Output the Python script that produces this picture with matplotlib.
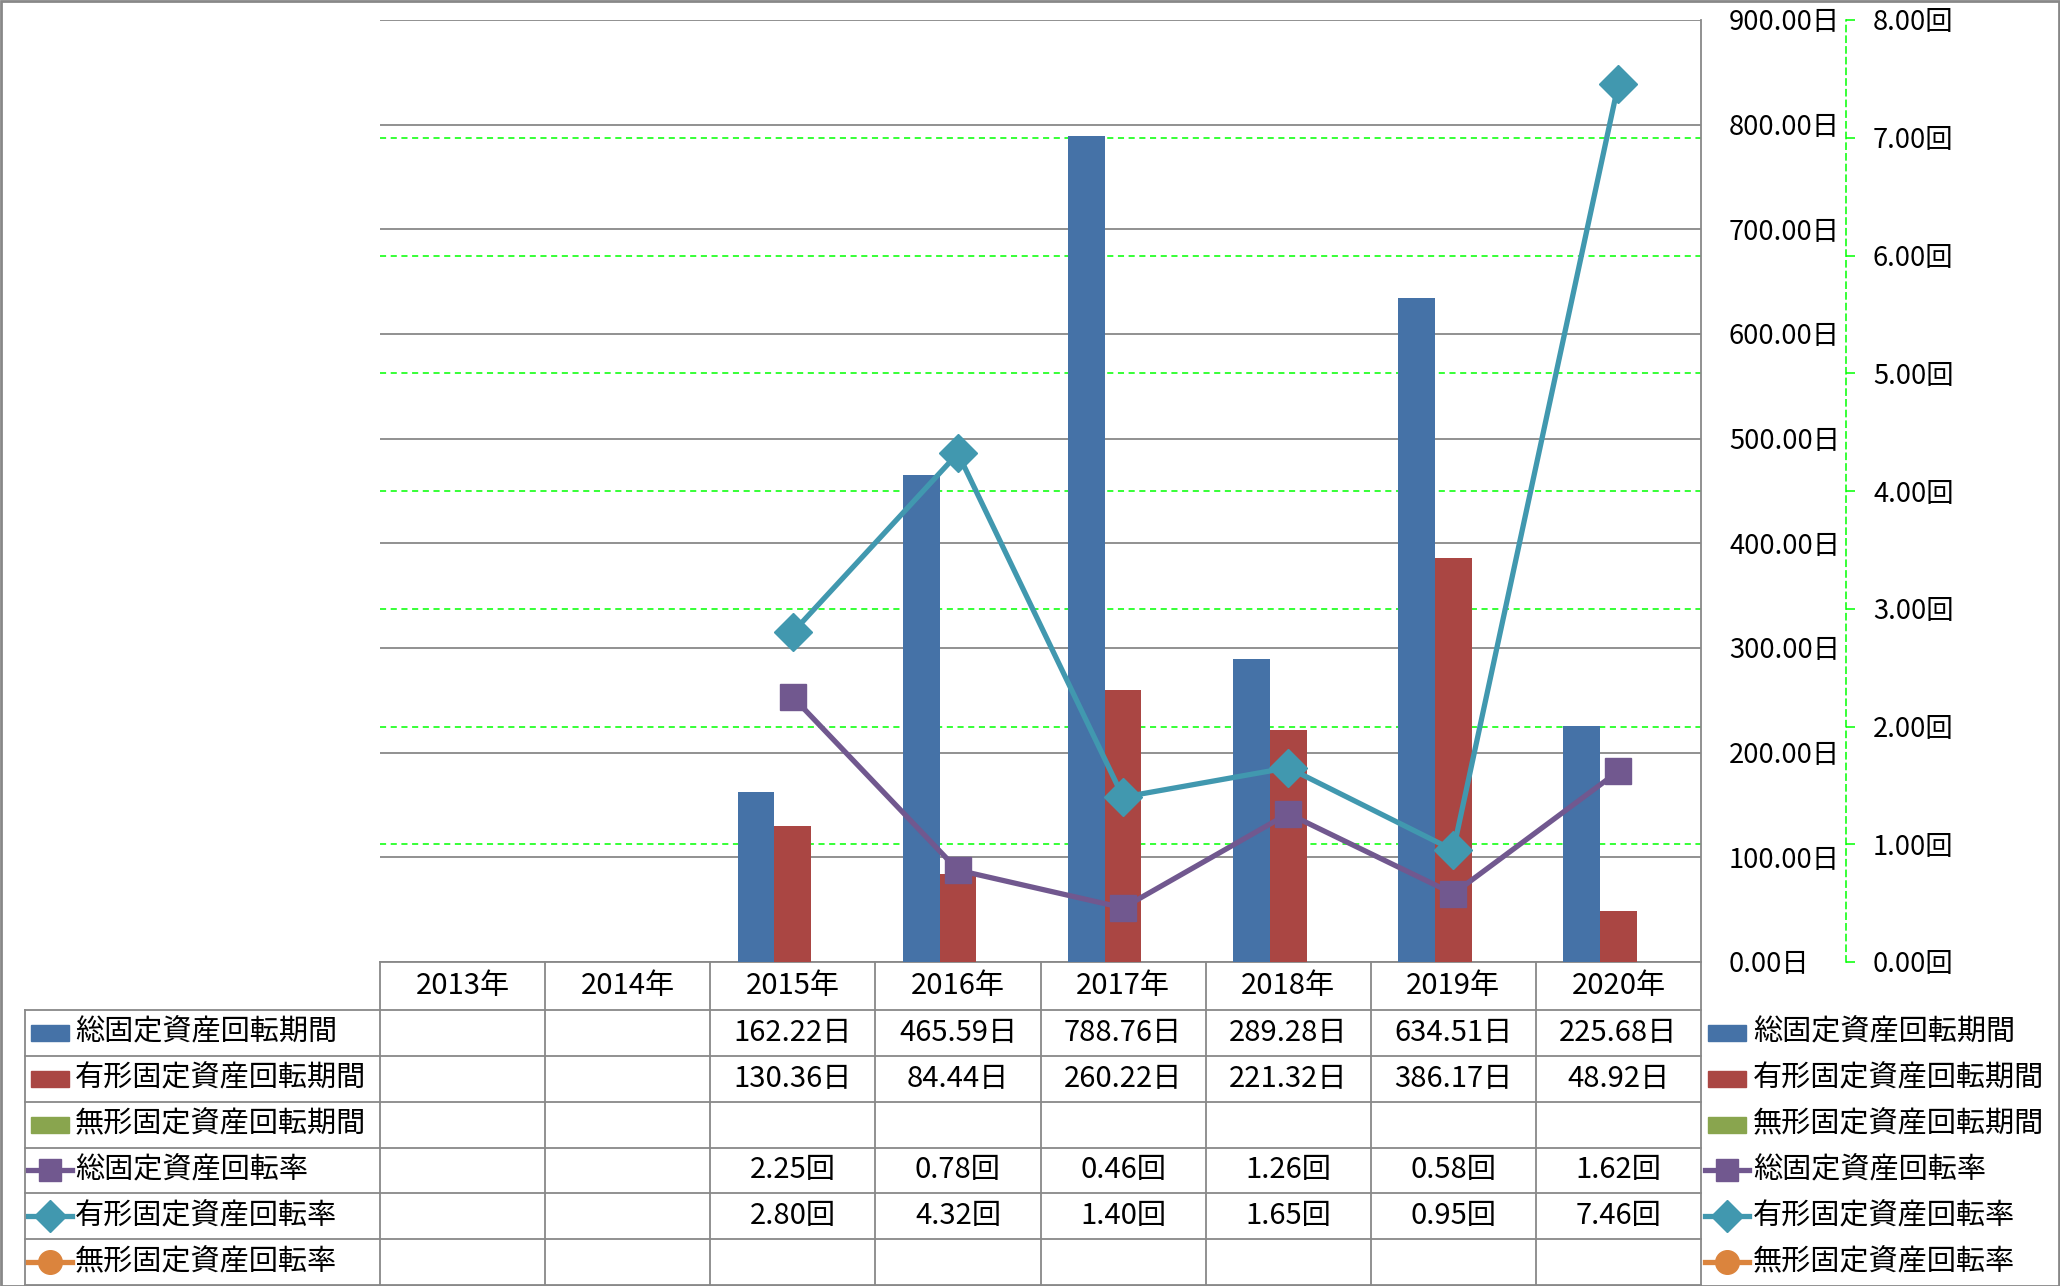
import matplotlib as mpl
mpl.use("Agg")
import matplotlib.pyplot as plt
from matplotlib.patches import Rectangle
from matplotlib.lines import Line2D
import numpy as np

plt.rcParams["font.family"] = ["Noto Sans CJK JP", "DejaVu Sans"]

nan = np.nan
years = ["2013年", "2014年", "2015年", "2016年", "2017年", "2018年", "2019年", "2020年"]
period_names = ["総固定資産回転期間", "有形固定資産回転期間", "無形固定資産回転期間"]
rate_names = ["総固定資産回転率", "有形固定資産回転率", "無形固定資産回転率"]
total_days = [nan, nan, 162.22, 465.59, 788.76, 289.28, 634.51, 225.68]
tangible_days = [nan, nan, 130.36, 84.44, 260.22, 221.32, 386.17, 48.92]
intangible_days = [nan] * 8
total_rate = [nan, nan, 2.25, 0.78, 0.46, 1.26, 0.58, 1.62]
tangible_rate = [nan, nan, 2.80, 4.32, 1.40, 1.65, 0.95, 7.46]
intangible_rate = [nan] * 8
day_ticks = np.arange(0, 901, 100)
rate_ticks = np.arange(0, 9, 1)

BAR_COLORS = ["#4572A7", "#AA4643", "#89A54E"]
LINE_COLORS = ["#71588F", "#4198AF", "#DB843D"]
MARKERS = ["s", "D", "o"]
MSIZE = [19, 19, 20]
LW = 3.8
GRID = "#888888"
FS = 21
TICK_FS = 19.7

W, H = 2060, 1286
PT = 0.72  # points per pixel at dpi 100


def fx(px):
    return px / W


def fy(py):
    return 1 - py / H


fig = plt.figure(figsize=(W / 100, H / 100), dpi=100)
L, R, T, B = 380, 1701, 20, 962
ax = fig.add_axes([fx(L), fy(B), (R - L) / W, (B - T) / H])
x = np.arange(len(years))
w = 0.2227
for k, ser in enumerate([total_days, tangible_days, intangible_days]):
    ax.bar(x + (k - 1) * w, ser, width=w, color=BAR_COLORS[k], zorder=3)

ax.set_xlim(-0.5, len(years) - 0.5)
ax.set_ylim(day_ticks[0], day_ticks[-1])
ax.set_xticks([])
ax.grid(axis="y", color=GRID, lw=1.3, zorder=0)
for s in ["left", "top"]:
    ax.spines[s].set_visible(False)
for s in ["right", "bottom"]:
    ax.spines[s].set_color(GRID)
    ax.spines[s].set_linewidth(1.3)

# secondary-axis gridlines, drawn behind the bars
scale = day_ticks[-1] / rate_ticks[-1]
for v in rate_ticks[1:-1]:
    ax.axhline(v * scale, color="#00FF00", lw=1.1, ls=(0, (4, 3)), zorder=1)

ax2 = ax.twinx()
# primary value labels sit to the right of the plot
ax.yaxis.tick_right()
ax.set_yticks(day_ticks)
ax.set_yticklabels([f"{v:.2f}日" for v in day_ticks])
ax.tick_params(axis="y", left=False, right=False, labelleft=False, labelright=True,
               length=0, pad=28 * PT, labelsize=TICK_FS)

ax2.set_ylim(rate_ticks[0], rate_ticks[-1])
ax2.set_yticks(rate_ticks)
ax2.set_yticklabels([f"{v:.2f}回" for v in rate_ticks])
for s in ["left", "top", "bottom"]:
    ax2.spines[s].set_visible(False)
ax2.spines["right"].set_position(("outward", (1846 - R) * PT))
ax2.spines["right"].set_color("#00FF00")
ax2.spines["right"].set_linestyle((0, (4, 3)))
ax2.spines["right"].set_linewidth(1.1)
ax2.tick_params(axis="y", direction="out", length=9 * PT, color="#00FF00",
                width=1.1, pad=18 * PT, labelsize=TICK_FS)
for k, ser in enumerate([total_rate, tangible_rate, intangible_rate]):
    ax2.plot(x, ser, color=LINE_COLORS[k], lw=LW, marker=MARKERS[k], ms=MSIZE[k],
             mfc=LINE_COLORS[k], mec=LINE_COLORS[k], mew=1, zorder=4, clip_on=False)

# data table under the plot
col_edges = L + (R - L) / len(years) * np.arange(len(years) + 1)
col_mid = (col_edges[:-1] + col_edges[1:]) / 2
row_edges = np.linspace(1010, 1285, 7)
row_mid = (row_edges[:-1] + row_edges[1:]) / 2
TL = 25


def hline(y, x0, x1):
    fig.add_artist(Line2D([fx(x0), fx(x1)], [fy(y), fy(y)], color=GRID, lw=1.3))


def vline(xp, y0, y1):
    fig.add_artist(Line2D([fx(xp), fx(xp)], [fy(y0), fy(y1)], color=GRID, lw=1.3))


for xp in col_edges:
    vline(xp, B, row_edges[-1])
vline(TL, row_edges[0], row_edges[-1])
for y in row_edges:
    hline(y, TL, R)

for cx, yr in zip(col_mid, years):
    fig.text(fx(cx), fy((B + row_edges[0]) / 2), yr, ha="center", va="center", fontsize=FS)

series = [total_days, tangible_days, intangible_days, total_rate, tangible_rate, intangible_rate]
units = ["日", "日", "日", "回", "回", "回"]
names = period_names + rate_names
for r, (ser, u) in enumerate(zip(series, units)):
    for cx, v in zip(col_mid, ser):
        if not np.isnan(v):
            fig.text(fx(cx), fy(row_mid[r]), f"{v:.2f}{u}", ha="center", va="center", fontsize=FS)


def legend_key_line(k, x0, y):
    fig.add_artist(Line2D([fx(x0 - 3), fx(x0 + 41)], [fy(y), fy(y)], color=LINE_COLORS[k], lw=LW))
    fig.add_artist(Line2D([fx(x0 + 19)], [fy(y)], color=LINE_COLORS[k], marker=MARKERS[k],
                          ms=MSIZE[k] * 0.85, mfc=LINE_COLORS[k], mec=LINE_COLORS[k], ls="none"))


for r, name in enumerate(names):
    y = row_mid[r]
    for x0, xt in [(31, 75), (1708, 1753)]:
        if r < 3:
            fig.add_artist(Rectangle((fx(x0), fy(y + 8)), 38 / W, 16 / H,
                                     color=BAR_COLORS[r], transform=fig.transFigure))
        else:
            legend_key_line(r - 3, x0, y)
        fig.text(fx(xt), fy(y), name, ha="left", va="center", fontsize=FS)

# outer frame
fig.add_artist(Rectangle((0.5 / W, 0.5 / H), 1 - 1.5 / W, 1 - 1.5 / H, fill=False,
                         edgecolor=GRID, lw=2, transform=fig.transFigure))

fig.savefig("out.png", dpi=100)
